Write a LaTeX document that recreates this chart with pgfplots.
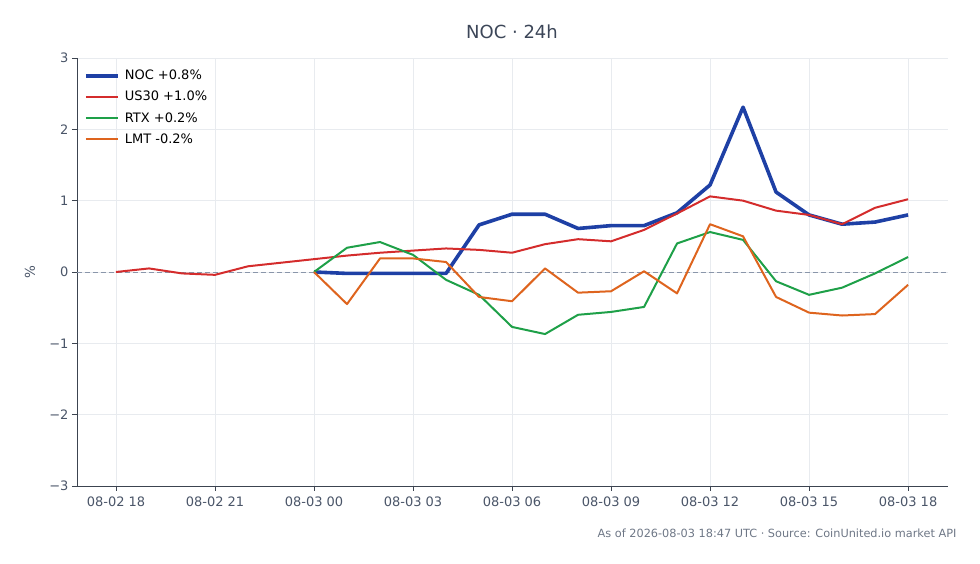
\documentclass[border=0pt]{standalone}
\usepackage{fontspec}
\setmainfont{DejaVu Sans}
\usepackage{pgfplots}
\pgfplotsset{compat=1.18}
\definecolor{nocblue}{RGB}{30,64,165}
\definecolor{usred}{RGB}{212,44,44}
\definecolor{rtxgreen}{RGB}{30,160,72}
\definecolor{lmtorange}{RGB}{222,100,30}
\definecolor{ticktext}{RGB}{74,85,104}
\definecolor{titletext}{RGB}{60,70,88}
\definecolor{axisline}{RGB}{60,68,80}
\definecolor{gridc}{RGB}{232,235,239}
\definecolor{zeroline}{RGB}{138,150,170}

\begin{document}
\begin{tikzpicture}[x=1pt,y=1pt]
\useasboundingbox (0,0) rectangle (980,564);
\begin{axis}[
    at={(77pt,78pt)}, anchor=south west,
    scale only axis,
    width=871pt, height=428pt,
    xmin=-1.182, xmax=25.21,
    ymin=-3, ymax=3,
    axis x line*=bottom, axis y line*=left,
    axis line style={draw=axisline, line width=0.9pt},
    xtick={0,3,...,24},
    xticklabels={08-02 18,08-02 21,08-03 00,08-03 03,08-03 06,08-03 09,08-03 12,08-03 15,08-03 18},
    ytick={-3,-2,...,3},
    yticklabels={−3,−2,−1,0,1,2,3},
    tick align=outside,
    major tick length=5pt,
    tick style={draw=axisline, line width=0.9pt},
    ticklabel style={font=\fontsize{13}{15}\selectfont, text=ticktext},
    xticklabel style={yshift=-2pt},
    grid=major,
    grid style={draw=gridc, line width=0.6pt},
    ylabel={\%},
    every axis y label/.style={at={(-47pt,214pt)}, rotate=90, anchor=center,
        font=\fontsize{13.5}{15}\selectfont, text=ticktext},
    legend style={at={(4pt,420pt)}, anchor=north west, draw=none, fill=none,
        font=\fontsize{13}{15}\selectfont, row sep=6pt,
        /tikz/every odd column/.append style={column sep=3pt}},
    legend cell align=left,
    legend image code/.code={\draw[#1] (0pt,0pt) -- (32pt,0pt);},
]
\addplot[draw=zeroline, line width=0.9pt, dash pattern=on 5pt off 3pt, forget plot] coordinates {(-1.182,0) (25.21,0)};

\addplot[nocblue, line width=3.6pt, line join=round] coordinates {
 (6,0.00) (7,-0.02) (8,-0.02) (9,-0.02) (10,-0.02) (11,0.66) (12,0.81) (13,0.81)
 (14,0.61) (15,0.65) (16,0.65) (17,0.83) (18,1.22) (19,2.31) (20,1.12) (21,0.80)
 (22,0.67) (23,0.70) (24,0.80)
};
\addlegendentry{NOC +0.8\%}

\addplot[usred, line width=2pt, line join=round] coordinates {
 (0,0.00) (1,0.05) (2,-0.02) (3,-0.04) (4,0.08) (5,0.13) (6,0.18) (7,0.23) (8,0.27)
 (9,0.30) (10,0.33) (11,0.31) (12,0.27) (13,0.39) (14,0.46) (15,0.43) (16,0.59)
 (17,0.82) (18,1.06) (19,1.00) (20,0.86) (21,0.80) (22,0.67) (23,0.90) (24,1.02)
};
\addlegendentry{US30 +1.0\%}

\addplot[rtxgreen, line width=2pt, line join=round] coordinates {
 (6,0.00) (7,0.34) (8,0.42) (9,0.24) (10,-0.11) (11,-0.32) (12,-0.77) (13,-0.87)
 (14,-0.60) (15,-0.56) (16,-0.49) (17,0.40) (18,0.56) (19,0.45) (20,-0.13)
 (21,-0.32) (22,-0.22) (23,-0.02) (24,0.21)
};
\addlegendentry{RTX +0.2\%}

\addplot[lmtorange, line width=2pt, line join=round] coordinates {
 (6,0.00) (7,-0.45) (8,0.19) (9,0.19) (10,0.14) (11,-0.35) (12,-0.41) (13,0.05)
 (14,-0.29) (15,-0.27) (16,0.01) (17,-0.30) (18,0.67) (19,0.50) (20,-0.35)
 (21,-0.57) (22,-0.61) (23,-0.59) (24,-0.18)
};
\addlegendentry{LMT -0.2\%}
\end{axis}
\node[font=\fontsize{18}{20}\selectfont, text=titletext] at (512,532) {NOC · 24h};
\node[anchor=east, font=\fontsize{11.3}{13}\selectfont, text=ticktext!80] at (960,31) {As of 2026-08-03 18:47 UTC · Source: CoinUnited.io market API};
\end{tikzpicture}
\end{document}
